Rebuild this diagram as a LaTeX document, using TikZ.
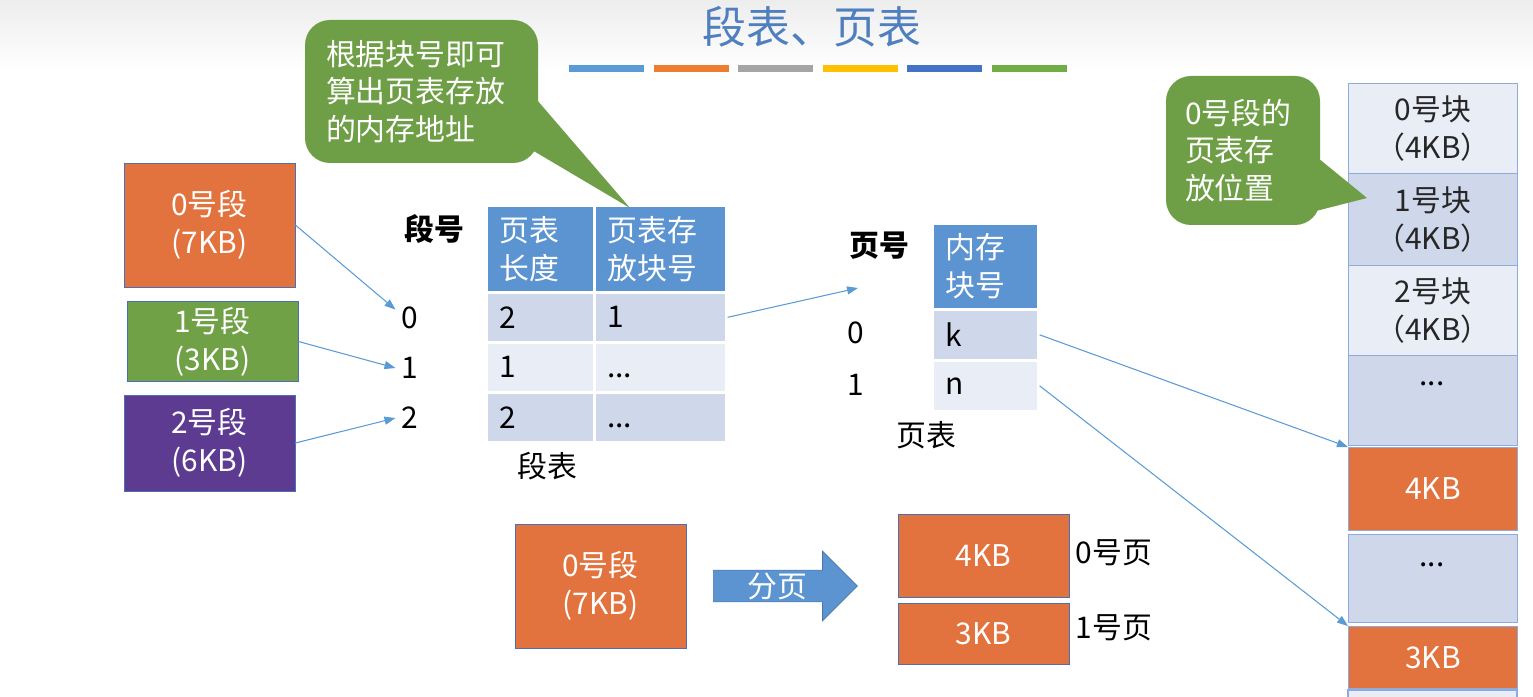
\documentclass[tikz,border=0pt]{standalone}
\usepackage{fontspec}
\setmainfont{Noto Sans CJK SC}
\usetikzlibrary{arrows.meta,positioning,shapes.arrows}

\definecolor{segorange}{HTML}{E2733E}
\definecolor{seggreen}{HTML}{70A147}
\definecolor{segpurple}{HTML}{5C3B91}
\definecolor{boxline}{HTML}{4A6FB5}
\definecolor{headblue}{HTML}{5B94D0}
\definecolor{rowdark}{HTML}{CFD8EB}
\definecolor{rowlight}{HTML}{E9EDF6}
\definecolor{memline}{HTML}{8FAADC}
\definecolor{arrowblue}{HTML}{5B9BD5}
\definecolor{calloutgreen}{HTML}{6E9E45}
\definecolor{titleblue}{HTML}{4F7FBF}
\definecolor{barblue}{HTML}{5B9BD5}
\definecolor{barorange}{HTML}{ED7D31}
\definecolor{bargray}{HTML}{A5A5A5}
\definecolor{bargold}{HTML}{FFC000}
\definecolor{bardarkblue}{HTML}{4472C4}
\definecolor{bargreen}{HTML}{70AD47}

\newcommand{\bodyfont}{\fontsize{17pt}{21.5pt}\selectfont}
\newcommand{\celldots}{\vphantom{1}...}

\begin{document}
\begin{tikzpicture}[x=0.2mm, y=-0.2mm, font=\bodyfont,
  box/.style={draw=boxline, line width=0.4pt, text=white, align=center, minimum width=34.2mm},
  cell/.style={draw=white, line width=1.5pt, anchor=north west, align=left,
    inner xsep=2.6mm, inner ysep=1mm},
  mem/.style={draw=memline, line width=0.6pt, anchor=north west, align=center,
    minimum width=33.8mm, inner sep=0pt, text=black!85},
  bubble/.style={fill=calloutgreen, rounded corners=5mm, text=white, align=left},
  arr/.style={draw=arrowblue, line width=0.6pt, -{Triangle[length=2.2mm, width=1.6mm]}}]
\useasboundingbox (0,0) rectangle (1533,697);

% Kopbalk met titel en gekleurde streepjes
\shade[top color=gray!14, bottom color=white] (0,0) rectangle (1533,70);
\node[font=\fontsize{25pt}{30pt}\selectfont, text=titleblue] (title) at (812,27) {段表、页表};
\foreach \c [count=\i from 0] in {barblue,barorange,bargray,bargold,bardarkblue,bargreen}
  \fill[\c] ({569+\i*84.6},65) rectangle ++(75,7);

% Segmenten links
\node[box, fill=segorange, minimum height=24.8mm] (seg0) at (209.5,225) {0号段\\(7KB)};
\node[box, fill=seggreen,  minimum height=14.6mm] (seg1) at (212.5,341.5) {1号段\\(3KB)};
\node[box, fill=segpurple, minimum height=19.2mm] (seg2) at (209.5,443) {2号段\\(6KB)};

% Segmentnummers
\node[font=\bodyfont\bfseries] (seglbl) at (434,229) {段号};
\node (sn0) at (410,318) {0};
\node (sn1) at (410,368) {1};
\node (sn2) at (410,418) {2};

\draw[arr] (seg0.east) -- (sn0.150);
\draw[arr] (seg1.east) -- (sn1.west);
\draw[arr] (seg2.east) -- (sn2.west);

% Segmenttabel
\node[cell, fill=headblue, text=white, text width=16.4mm, minimum height=17.4mm] (sh1) at (485,204) {页表\\长度};
\node[cell, fill=headblue, text=white, text width=21.2mm, minimum height=17.4mm] (sh2) at (593,204) {页表存\\放块号};
\node[cell, fill=rowdark,  text width=16.4mm, minimum height=10mm] (t00) at (485,291) {2};
\node[cell, fill=rowdark,  text width=21.2mm, minimum height=10mm] (t01) at (593,291) {1};
\node[cell, fill=rowlight, text width=16.4mm, minimum height=10mm] (t10) at (485,341) {1};
\node[cell, fill=rowlight, text width=21.2mm, minimum height=10mm] (t11) at (593,341) {\celldots};
\node[cell, fill=rowdark,  text width=16.4mm, minimum height=10mm] (t20) at (485,391) {2};
\node[cell, fill=rowdark,  text width=21.2mm, minimum height=10mm] (t21) at (593,391) {\celldots};
\node (segtab) at (547,466) {段表};

% Tekstballon boven de segmenttabel
\node[bubble, text width=38.2mm, minimum height=28.6mm, inner xsep=4.2mm] (note1) at (421.5,91.5)
  {根据块号即可\\算出页表存放\\的内存地址};
\coordinate (tip1) at (630,208);
\fill[calloutgreen] (537,100) -- (tip1) -- (532,150) -- cycle;

% Paginatabel
\coordinate (ptin) at (858,288);
\draw[arr] (t01.east) -- (ptin);
\node[font=\bodyfont\bfseries] (pglbl) at (879,246) {页号};
\node (pn0) at (856,333) {0};
\node (pn1) at (856,385) {1};
\node[cell, fill=headblue, text=white, text width=16mm, minimum height=17.2mm] (ph) at (931,222) {内存\\块号};
\node[cell, fill=rowdark,  text width=16mm, minimum height=10.2mm] (pk) at (931,308) {k};
\node[cell, fill=rowlight, text width=16mm, minimum height=10.2mm] (pn) at (931,359) {n};
\node (pgtab) at (926,435) {页表};

% Geheugenblokken rechts
\node[mem, fill=rowlight, minimum height=18mm]   (m0) at (1348,83)  {0号块\\（4KB）};
\node[mem, fill=rowdark,  minimum height=18.4mm] (m1) at (1348,173) {1号块\\（4KB）};
\node[mem, fill=rowlight, minimum height=18mm]   (m2) at (1348,265) {2号块\\（4KB）};
\node[mem, fill=rowdark,  minimum height=18mm]   (md1) at (1348,355) {};
\node[mem, fill=segorange, text=white, minimum height=16.6mm] (m4) at (1348,447) {4KB};
\node[mem, fill=rowdark,  minimum height=17.6mm] (md2) at (1348,534) {};
\node[mem, fill=segorange, text=white, minimum height=12.4mm] (m3) at (1348,626) {3KB};
\filldraw[fill=rowlight, draw=memline, line width=0.6pt] (1348,690) rectangle (1517,705);
\node (md1dots) at (1432,384) {...};
\node (md2dots) at (1432,565) {...};

\draw[arr] (pk.east) -- (m4.north west);
\draw[arr] (pn.east) -- (m3.north west);

% Tekstballon bij het geheugen
\node[bubble, text width=23.2mm, minimum height=29.8mm, inner xsep=3.8mm] (note2) at (1243,150.5)
  {0号段的\\页表存\\放位置};
\coordinate (tip2) at (1367,198);
\fill[calloutgreen] (1318,158) -- (tip2) -- (1312,212) -- cycle;

% Opsplitsen van segment 0 in pagina's
\node[box, fill=segorange, minimum height=24.8mm] (seg0b) at (600.5,586) {0号段\\(7KB)};
\node[single arrow, fill=headblue, draw=headblue!80!black, line width=0.4pt, text=white,
  minimum height=28.8mm, single arrow head extend=3.8mm, inner ysep=0.4mm, inner xsep=1mm,
  anchor=tail] (split) at (713,586) {分页};
\node[box, fill=segorange, minimum height=16.6mm] (pg0) at (983.5,555.5) {4KB};
\node[box, fill=segorange, minimum height=12.2mm] (pg1) at (983.5,633.5) {3KB};
\node[right=0pt of pg0, yshift=0.5mm] (pg0lbl) {0号页};
\node[right=0pt of pg1, yshift=1.2mm] (pg1lbl) {1号页};
\end{tikzpicture}
\end{document}
